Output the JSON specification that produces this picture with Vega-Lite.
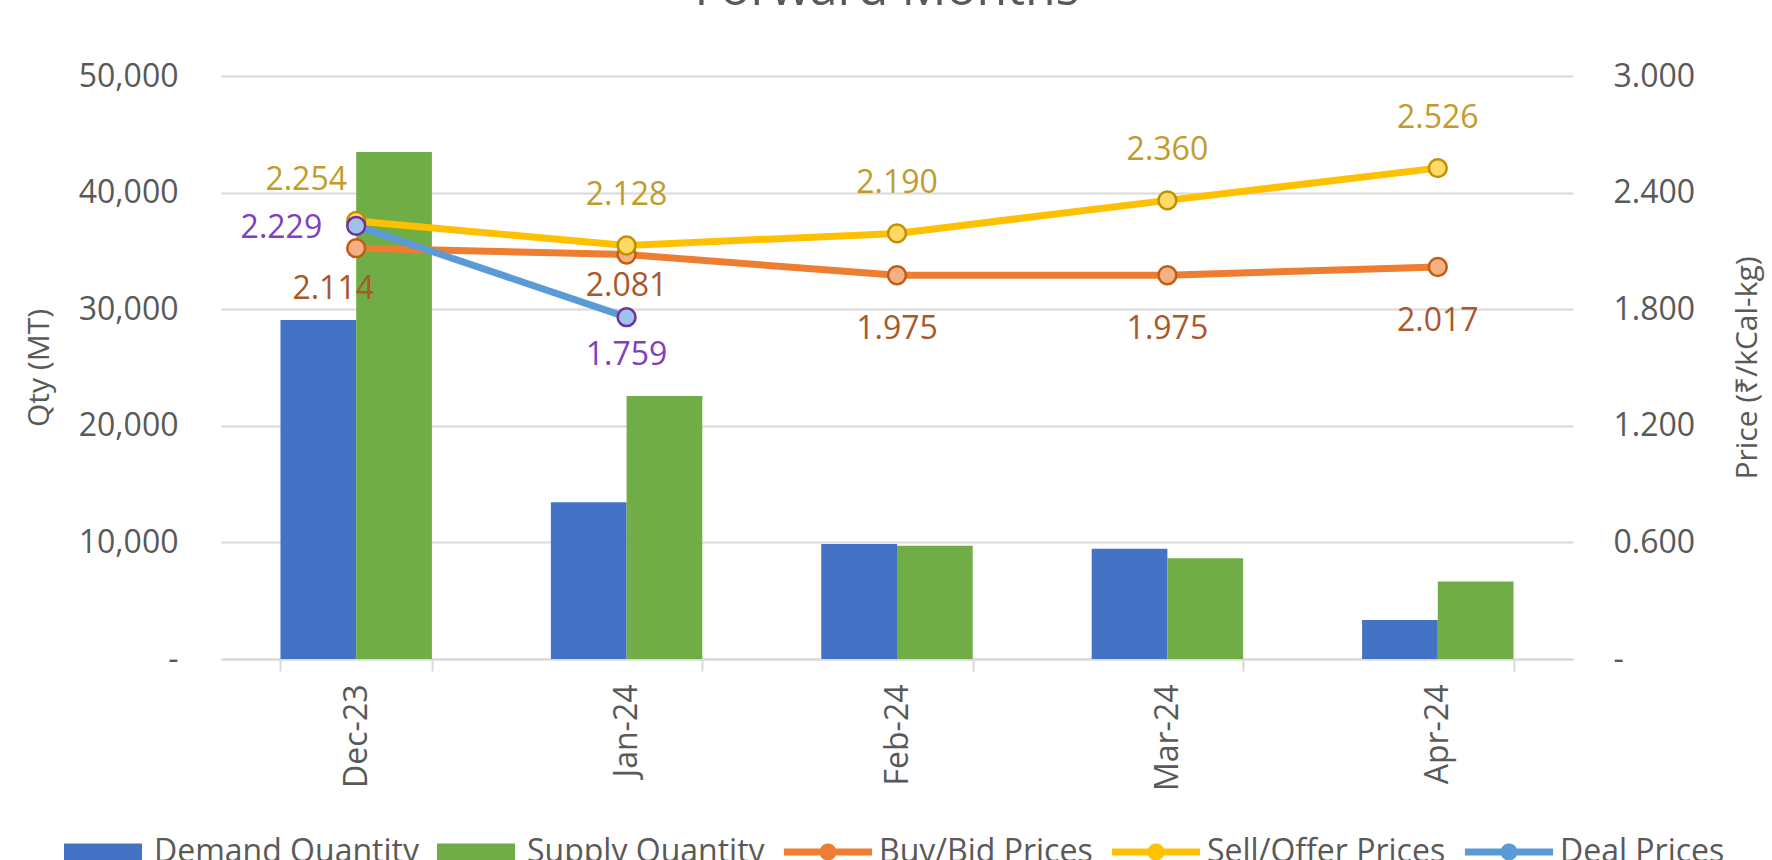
{
  "$schema": "https://vega.github.io/schema/vega-lite/v6.json",
  "autosize": {"type": "none"},
  "padding": {"left": 221, "top": 76, "right": 199, "bottom": 201},
  "width": 1352,
  "height": 583,
  "background": "white",
  "config": {
    "font": "Open Sans",
    "view": {"stroke": null},
    "axis": {"labelColor": "#595959", "titleColor": "#595959", "labelFontSize": 32, "titleFontSize": 30, "titleFontWeight": "normal", "labelFont": "Open Sans", "titleFont": "Open Sans"}
  },
  "title": {"text": "Forward Months", "fontSize": 50, "fontWeight": "normal", "color": "#595959", "font": "Open Sans", "anchor": "middle", "baseline": "alphabetic", "offset": 5, "dx": -10},
  "data": {"values": [
    {"month": "Dec-23", "series": "Demand Quantity", "value": 29070},
    {"month": "Jan-24", "series": "Demand Quantity", "value": 13440},
    {"month": "Feb-24", "series": "Demand Quantity", "value": 9860},
    {"month": "Mar-24", "series": "Demand Quantity", "value": 9460},
    {"month": "Apr-24", "series": "Demand Quantity", "value": 3350},
    {"month": "Dec-23", "series": "Supply Quantity", "value": 43480},
    {"month": "Jan-24", "series": "Supply Quantity", "value": 22550},
    {"month": "Feb-24", "series": "Supply Quantity", "value": 9710},
    {"month": "Mar-24", "series": "Supply Quantity", "value": 8650},
    {"month": "Apr-24", "series": "Supply Quantity", "value": 6650},
    {"month": "Dec-23", "series": "Buy/Bid Prices", "value": 2.114},
    {"month": "Jan-24", "series": "Buy/Bid Prices", "value": 2.081},
    {"month": "Feb-24", "series": "Buy/Bid Prices", "value": 1.975},
    {"month": "Mar-24", "series": "Buy/Bid Prices", "value": 1.975},
    {"month": "Apr-24", "series": "Buy/Bid Prices", "value": 2.017},
    {"month": "Dec-23", "series": "Sell/Offer Prices", "value": 2.254},
    {"month": "Jan-24", "series": "Sell/Offer Prices", "value": 2.128},
    {"month": "Feb-24", "series": "Sell/Offer Prices", "value": 2.190},
    {"month": "Mar-24", "series": "Sell/Offer Prices", "value": 2.360},
    {"month": "Apr-24", "series": "Sell/Offer Prices", "value": 2.526},
    {"month": "Dec-23", "series": "Deal Prices", "value": 2.229},
    {"month": "Jan-24", "series": "Deal Prices", "value": 1.759}
  ]},
  "encoding": {
    "x": {"field": "month", "type": "nominal", "sort": ["Dec-23", "Jan-24", "Feb-24", "Mar-24", "Apr-24"],
      "scale": {"paddingInner": 0.44, "paddingOuter": 0.22},
      "axis": {"title": null, "labelAngle": -90, "labelPadding": 13, "domainColor": "#D9D9D9", "domainWidth": 2, "tickBand": "extent", "tickColor": "#D9D9D9", "tickWidth": 2, "tickSize": 12, "grid": false}}
  },
  "layer": [
    {
      "transform": [{"filter": "indexof(['Demand Quantity','Supply Quantity'], datum.series) >= 0"}],
      "mark": {"type": "bar"},
      "encoding": {
        "xOffset": {"field": "series", "type": "nominal", "sort": ["Demand Quantity", "Supply Quantity"], "scale": {"paddingInner": 0, "paddingOuter": 0}},
        "y": {"field": "value", "type": "quantitative", "scale": {"domain": [0, 50000], "nice": false},
          "axis": {"title": "Qty (MT)", "values": [0, 10000, 20000, 30000, 40000, 50000], "format": ",.0f", "labelExpr": "datum.value == 0 ? '-\u2007' : datum.label", "domain": false, "ticks": false, "labelPadding": 43, "titlePadding": 24, "gridColor": "#D9D9D9", "gridWidth": 2}},
        "color": {"field": "series", "type": "nominal",
          "scale": {"domain": ["Demand Quantity", "Supply Quantity", "Buy/Bid Prices", "Sell/Offer Prices", "Deal Prices"], "range": ["#4472C4", "#70AD47", "#ED7D31", "#FFC000", "#5B9BD5"]},
          "legend": {"title": null, "orient": "none", "legendX": -157, "legendY": 737, "direction": "horizontal", "labelFontSize": 32, "labelFont": "Open Sans", "labelColor": "#595959", "labelLimit": 0, "symbolSize": 6084, "labelOffset": 12, "columnPadding": 18,
            "encode": {"symbols": {"update": {
              "shape": {"signal": "indexof(['Demand Quantity','Supply Quantity'], datum.value) >= 0 ? 'M-1,-0.22H1V0.22H-1Z' : 'M-1.13,-0.09H-0.2A0.22,0.22 0 0,1 0.2,-0.09H1.13V0.09H0.2A0.22,0.22 0 0,1 -0.2,0.09H-1.13Z'"},
              "fill": {"scale": "color", "field": "value"},
              "stroke": {"value": "transparent"},
              "strokeWidth": {"value": 0},
              "opacity": {"value": 1}
            }}}}
        }
      }
    },
    {
      "encoding": {
        "y": {"field": "value", "type": "quantitative", "scale": {"domain": [0, 3], "nice": false},
          "axis": {"orient": "right", "title": "Price (₹/kCal-kg)", "titleAngle": 270, "titleBaseline": "top", "values": [0, 0.6, 1.2, 1.8, 2.4, 3.0], "format": ".3f", "labelExpr": "datum.value == 0 ? '-' : datum.label", "domain": false, "ticks": false, "grid": false, "labelPadding": 40, "titlePadding": 38}}
      },
      "layer": [
        {
          "transform": [{"filter": "indexof(['Buy/Bid Prices','Sell/Offer Prices','Deal Prices'], datum.series) >= 0"}],
          "mark": {"type": "line", "strokeWidth": 7, "strokeCap": "round", "strokeJoin": "round"},
          "encoding": {"color": {"field": "series", "type": "nominal"}, "detail": {"field": "series"}}
        },
        {
          "transform": [{"filter": "indexof(['Buy/Bid Prices','Sell/Offer Prices','Deal Prices'], datum.series) >= 0"}],
          "mark": {"type": "point", "shape": "circle", "filled": true, "size": 320, "strokeWidth": 2.5, "opacity": 1},
          "encoding": {
            "fill": {"field": "series", "type": "nominal", "scale": {"domain": ["Buy/Bid Prices", "Sell/Offer Prices", "Deal Prices"], "range": ["#F4B183", "#FFD966", "#9DC3E6"]}, "legend": null},
            "stroke": {"field": "series", "type": "nominal", "scale": {"domain": ["Buy/Bid Prices", "Sell/Offer Prices", "Deal Prices"], "range": ["#C55A11", "#BF9000", "#7030A0"]}, "legend": null}
          }
        },
        {
          "transform": [{"filter": "datum.series == 'Sell/Offer Prices' && datum.month != 'Dec-23'"}],
          "mark": {"type": "text", "fontSize": 32, "font": "Open Sans", "color": "#C29B2A", "dy": -50, "baseline": "middle"},
          "encoding": {"text": {"field": "value", "type": "quantitative", "format": ".3f"}}
        },
        {
          "transform": [{"filter": "datum.series == 'Sell/Offer Prices' && datum.month == 'Dec-23'"}],
          "mark": {"type": "text", "fontSize": 32, "font": "Open Sans", "color": "#C29B2A", "dx": -50, "dy": -41, "baseline": "middle"},
          "encoding": {"text": {"field": "value", "type": "quantitative", "format": ".3f"}}
        },
        {
          "transform": [{"filter": "datum.series == 'Buy/Bid Prices' && datum.month != 'Dec-23' && datum.month != 'Jan-24'"}],
          "mark": {"type": "text", "fontSize": 32, "font": "Open Sans", "color": "#A9582B", "dy": 54, "baseline": "middle"},
          "encoding": {"text": {"field": "value", "type": "quantitative", "format": ".3f"}}
        },
        {
          "transform": [{"filter": "datum.series == 'Buy/Bid Prices' && datum.month == 'Dec-23'"}],
          "mark": {"type": "text", "fontSize": 32, "font": "Open Sans", "color": "#A9582B", "dx": -23, "dy": 41, "baseline": "middle"},
          "encoding": {"text": {"field": "value", "type": "quantitative", "format": ".3f"}}
        },
        {
          "transform": [{"filter": "datum.series == 'Buy/Bid Prices' && datum.month == 'Jan-24'"}],
          "mark": {"type": "text", "fontSize": 32, "font": "Open Sans", "color": "#A9582B", "dy": 31, "baseline": "middle"},
          "encoding": {"text": {"field": "value", "type": "quantitative", "format": ".3f"}}
        },
        {
          "transform": [{"filter": "datum.series == 'Deal Prices' && datum.month == 'Dec-23'"}],
          "mark": {"type": "text", "fontSize": 32, "font": "Open Sans", "color": "#8040C0", "align": "right", "dx": -34, "dy": 2, "baseline": "middle"},
          "encoding": {"text": {"field": "value", "type": "quantitative", "format": ".3f"}}
        },
        {
          "transform": [{"filter": "datum.series == 'Deal Prices' && datum.month == 'Jan-24'"}],
          "mark": {"type": "text", "fontSize": 32, "font": "Open Sans", "color": "#8040C0", "dy": 38, "baseline": "middle"},
          "encoding": {"text": {"field": "value", "type": "quantitative", "format": ".3f"}}
        }
      ]
    }
  ],
  "resolve": {"scale": {"y": "independent"}}
}
